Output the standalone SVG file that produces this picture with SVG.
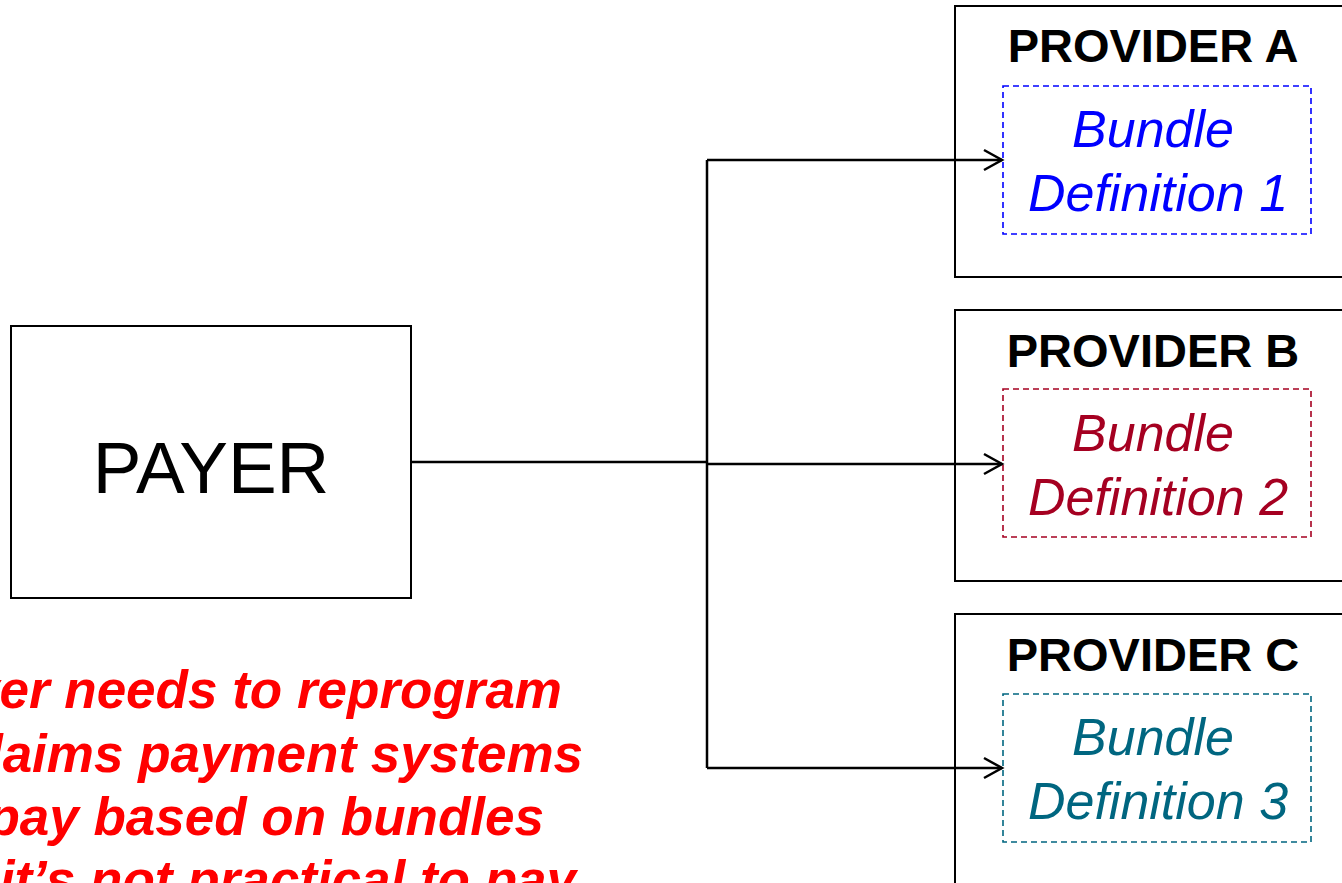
<svg xmlns="http://www.w3.org/2000/svg" width="1342" height="883" viewBox="0 0 1342 883">
<style>
.box{fill:#fff;stroke:#000;stroke-width:2}
.title{font-family:"Liberation Sans",Arial,sans-serif;font-weight:bold;font-size:47px;text-anchor:middle;fill:#000}
.bund{font-family:"Liberation Sans",Arial,sans-serif;font-style:italic;font-size:52px;text-anchor:middle}
.dash{fill:none;stroke-width:1.6;stroke-dasharray:6 4}
.conn{fill:none;stroke:#000;stroke-width:2.5}
.note{font-family:"Liberation Sans",Arial,sans-serif;font-weight:bold;font-style:italic;font-size:53px;fill:#FF0000;text-anchor:end}
</style>
<defs>
<marker id="arr" markerWidth="22" markerHeight="26" refX="19" refY="13" orient="auto" markerUnits="userSpaceOnUse">
<path d="M1,3 L19,13 L1,23" fill="none" stroke="#000" stroke-width="2.5"/>
</marker>
</defs>
<rect width="1342" height="883" fill="#fff"/>
<g id="payer">
<rect class="box" x="11" y="326" width="400" height="272"/>
<text x="211" y="493" font-family="Liberation Sans, Arial, sans-serif" font-size="73" text-anchor="middle">PAYER</text>
</g>
<g id="providerA">
<rect class="box" x="955" y="6" width="400" height="271"/>
<text class="title" x="1153" y="62">PROVIDER A</text>
<rect class="dash" x="1003" y="86" width="308" height="148" stroke="#0000FF"/>
<text class="bund" fill="#0000FF"><tspan x="1153" y="147">Bundle</tspan><tspan x="1158" y="211">Definition 1</tspan></text>
</g>
<g id="providerB">
<rect class="box" x="955" y="310" width="400" height="271"/>
<text class="title" x="1153" y="367">PROVIDER B</text>
<rect class="dash" x="1003" y="389" width="308" height="148" stroke="#A50021"/>
<text class="bund" fill="#A50021"><tspan x="1153" y="451">Bundle</tspan><tspan x="1158" y="515">Definition 2</tspan></text>
</g>
<g id="providerC">
<rect class="box" x="955" y="614" width="400" height="300"/>
<text class="title" x="1153" y="671">PROVIDER C</text>
<rect class="dash" x="1003" y="694" width="308" height="148" stroke="#006680"/>
<text class="bund" fill="#006680"><tspan x="1153" y="755">Bundle</tspan><tspan x="1158" y="819">Definition 3</tspan></text>
</g>
<g id="connectors">
<path class="conn" d="M411,462 H707"/>
<path class="conn" d="M707,160 V768"/>
<path class="conn" d="M707,160 H1002" marker-end="url(#arr)"/>
<path class="conn" d="M707,464 H1002" marker-end="url(#arr)"/>
<path class="conn" d="M707,768 H1002" marker-end="url(#arr)"/>
</g>
<g id="note">
<text class="note" x="562" y="708">Payer needs to reprogram</text>
<text class="note" x="583" y="772">claims payment systems</text>
<text class="note" x="544" y="835">to pay based on bundles</text>
<text class="note" x="576" y="898">it’s not practical to pay</text>
</g>
</svg>
